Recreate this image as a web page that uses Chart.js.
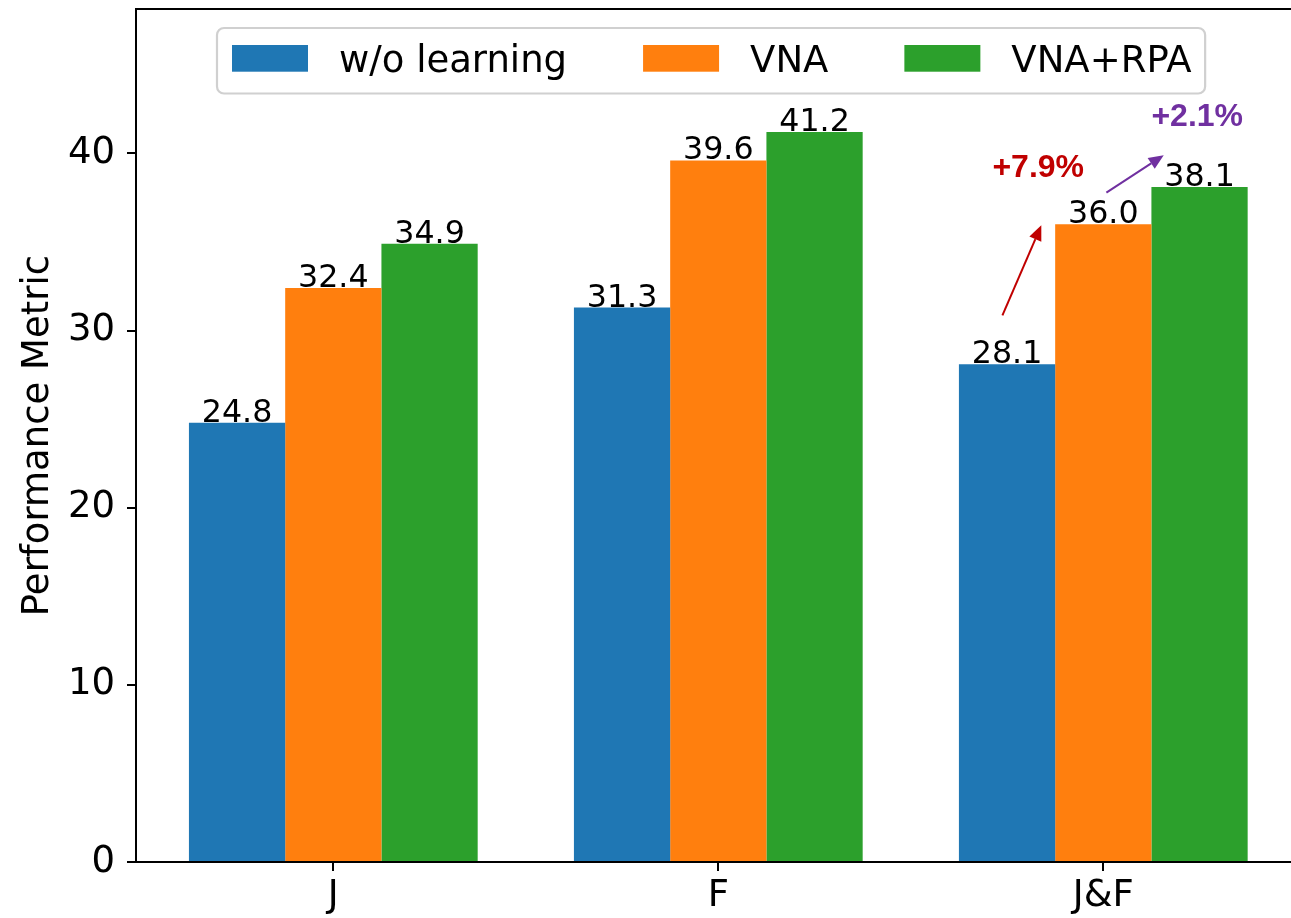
<!DOCTYPE html>
<html><head><meta charset="utf-8">
<style>
html,body{margin:0;padding:0;overflow:hidden;background:#fff;width:1291px;height:918px}
#wrap{position:absolute;left:0;top:0;width:1310px;height:918px}
</style>
<script src="https://cdn.jsdelivr.net/npm/chart.js@4.4.1/dist/chart.umd.min.js"></script>
</head><body><div id="wrap"><canvas id="c" width="1310" height="918"></canvas></div>
<script>
// ---- data ----
const categories = ['J', 'F', 'J&F'];
const seriesNames = ['w/o learning', 'VNA', 'VNA+RPA'];
const woLearning = [24.8, 31.3, 28.1];
const vna = [32.4, 39.6, 36.0];
const vnaRpa = [34.9, 41.2, 38.1];
const yTickValues = [0, 10, 20, 30, 40];
const yLabel = 'Performance Metric';
// annotations (data coordinates)
const gainLabels = ['+7.9%', '+2.1%'];
const gainLabelAt = [[1.831, 39.15], [2.244, 42.06]];
const arrowFrom = [[1.738, 30.86], [2.008, 37.78]];
const arrowTo = [[1.839, 35.94], [2.157, 39.90]];

// ---- styles ----
const colors = ['#1f77b4', '#ff7f0e', '#2ca02c'];
const gainColors = ['#C00000', '#7030A0'];
const FONT = '"DejaVu Sans", sans-serif';

const seriesValues = [woLearning, vna, vnaRpa];
const datasets = seriesValues.map((vals, d) => ({
  label: seriesNames[d],
  data: vals.map((v, i) => ({ x: i, y: v })),
  backgroundColor: colors[d],
  borderWidth: 0
}));

const valueLabels = {
  id: 'valueLabels',
  afterDatasetsDraw(chart) {
    const ctx = chart.ctx;
    ctx.save();
    ctx.font = '31.7px ' + FONT;
    ctx.fillStyle = '#000';
    ctx.textAlign = 'center';
    ctx.textBaseline = 'alphabetic';
    chart.data.datasets.forEach((ds, d) => {
      const meta = chart.getDatasetMeta(d);
      meta.data.forEach((bar, i) => {
        ctx.fillText(seriesValues[d][i].toFixed(1), bar.x, bar.y - 1);
      });
    });
    ctx.restore();
  }
};

function drawArrow(ctx, x1, y1, x2, y2, color) {
  const ang = Math.atan2(y2 - y1, x2 - x1);
  const hl = 15, hw = 6.5;
  const bx = x2 - hl * Math.cos(ang), by = y2 - hl * Math.sin(ang);
  ctx.strokeStyle = color; ctx.fillStyle = color; ctx.lineWidth = 2;
  ctx.beginPath(); ctx.moveTo(x1, y1); ctx.lineTo(bx, by); ctx.stroke();
  ctx.beginPath();
  ctx.moveTo(x2, y2);
  ctx.lineTo(bx + hw * Math.sin(ang), by - hw * Math.cos(ang));
  ctx.lineTo(bx - hw * Math.sin(ang), by + hw * Math.cos(ang));
  ctx.closePath(); ctx.fill();
}

const decorations = {
  id: 'decorations',
  afterDraw(chart) {
    const ctx = chart.ctx;
    const ca = chart.chartArea;
    const xs = chart.scales.x, ys = chart.scales.y;
    ctx.save();
    // top & right spines
    ctx.strokeStyle = '#000'; ctx.lineWidth = 2;
    ctx.beginPath();
    ctx.moveTo(ca.left - 1, ca.top); ctx.lineTo(ca.right, ca.top); ctx.lineTo(ca.right, ca.bottom);
    ctx.stroke();

    // legend
    ctx.font = '37px ' + FONT;
    const frameLeft = 217, frameTop = 28, frameBottom = 93.5;
    const padL = 15, padR = 13.5, patchW = 76, patchTop = 45, patchH = 26.7, textGap = 31, colGap = 76;
    let x = frameLeft + padL;
    const items = chart.data.datasets.map(ds => {
      const it = { px: x, tx: x + patchW + textGap, label: ds.label, color: ds.backgroundColor };
      const w = ctx.measureText(ds.label).width;
      x = it.tx + w + colGap;
      it.end = it.tx + w;
      return it;
    });
    const frameRight = items[items.length - 1].end + padR;
    ctx.beginPath();
    ctx.roundRect(frameLeft, frameTop, frameRight - frameLeft, frameBottom - frameTop, 7);
    ctx.fillStyle = 'rgba(255,255,255,0.8)'; ctx.fill();
    ctx.strokeStyle = '#d0d0d0'; ctx.lineWidth = 2.2; ctx.stroke();
    ctx.textAlign = 'left'; ctx.textBaseline = 'alphabetic';
    items.forEach(it => {
      ctx.fillStyle = it.color;
      ctx.fillRect(it.px, patchTop, patchW, patchH);
      ctx.fillStyle = '#000';
      ctx.fillText(it.label, it.tx, patchTop + patchH);
    });

    // gain annotations
    gainLabels.forEach((lab, k) => {
      drawArrow(ctx,
        xs.getPixelForValue(arrowFrom[k][0]), ys.getPixelForValue(arrowFrom[k][1]),
        xs.getPixelForValue(arrowTo[k][0]), ys.getPixelForValue(arrowTo[k][1]),
        gainColors[k]);
      ctx.font = 'bold 32px "Liberation Sans", Arial, sans-serif';
      ctx.fillStyle = gainColors[k];
      ctx.textAlign = 'center'; ctx.textBaseline = 'middle';
      ctx.fillText(lab, xs.getPixelForValue(gainLabelAt[k][0]), ys.getPixelForValue(gainLabelAt[k][1]));
    });
    ctx.restore();
  }
};

new Chart(document.getElementById('c'), {
  type: 'bar',
  data: { datasets },
  plugins: [valueLabels, decorations],
  options: {
    responsive: false,
    animation: false,
    devicePixelRatio: 1,
    categoryPercentage: 0.75,
    barPercentage: 1.0,
    layout: { padding: { left: 0, top: 9, right: 9.4, bottom: 0 } },
    plugins: { legend: { display: false }, tooltip: { enabled: false } },
    scales: {
      x: {
        type: 'linear',
        min: -0.5125, max: 2.5125,
        offset: false,
        grid: { display: true, drawOnChartArea: false, offset: false, tickLength: 9, lineWidth: 2, color: '#000', tickColor: '#000' },
        border: { display: true, color: '#000', width: 2 },
        ticks: { font: { family: FONT, size: 37 }, color: '#000', padding: 3, autoSkip: false, maxRotation: 0, minRotation: 0,
          callback: v => categories[v] },
        afterBuildTicks: s => { s.ticks = categories.map((_, i) => ({ value: i })); },
        afterFit: s => { s.height = 56; s.paddingLeft = 0; s.paddingRight = 0; }
      },
      y: {
        type: 'linear',
        min: 0, max: 48.15,
        grid: { display: true, drawOnChartArea: false, tickLength: 9, lineWidth: 2, color: '#000', tickColor: '#000' },
        border: { display: true, color: '#000', width: 2 },
        ticks: { font: { family: FONT, size: 37 }, color: '#000', padding: 12, callback: v => String(v) },
        afterBuildTicks: s => { s.ticks = yTickValues.map(v => ({ value: v })); },
        title: { display: true, text: yLabel, font: { family: FONT, size: 37 }, color: '#000', padding: { top: 16, bottom: 0 } },
        afterFit: s => { s.width = 136; s.paddingTop = 0; s.paddingBottom = 0; }
      }
    }
  }
});
</script>
</body></html>
